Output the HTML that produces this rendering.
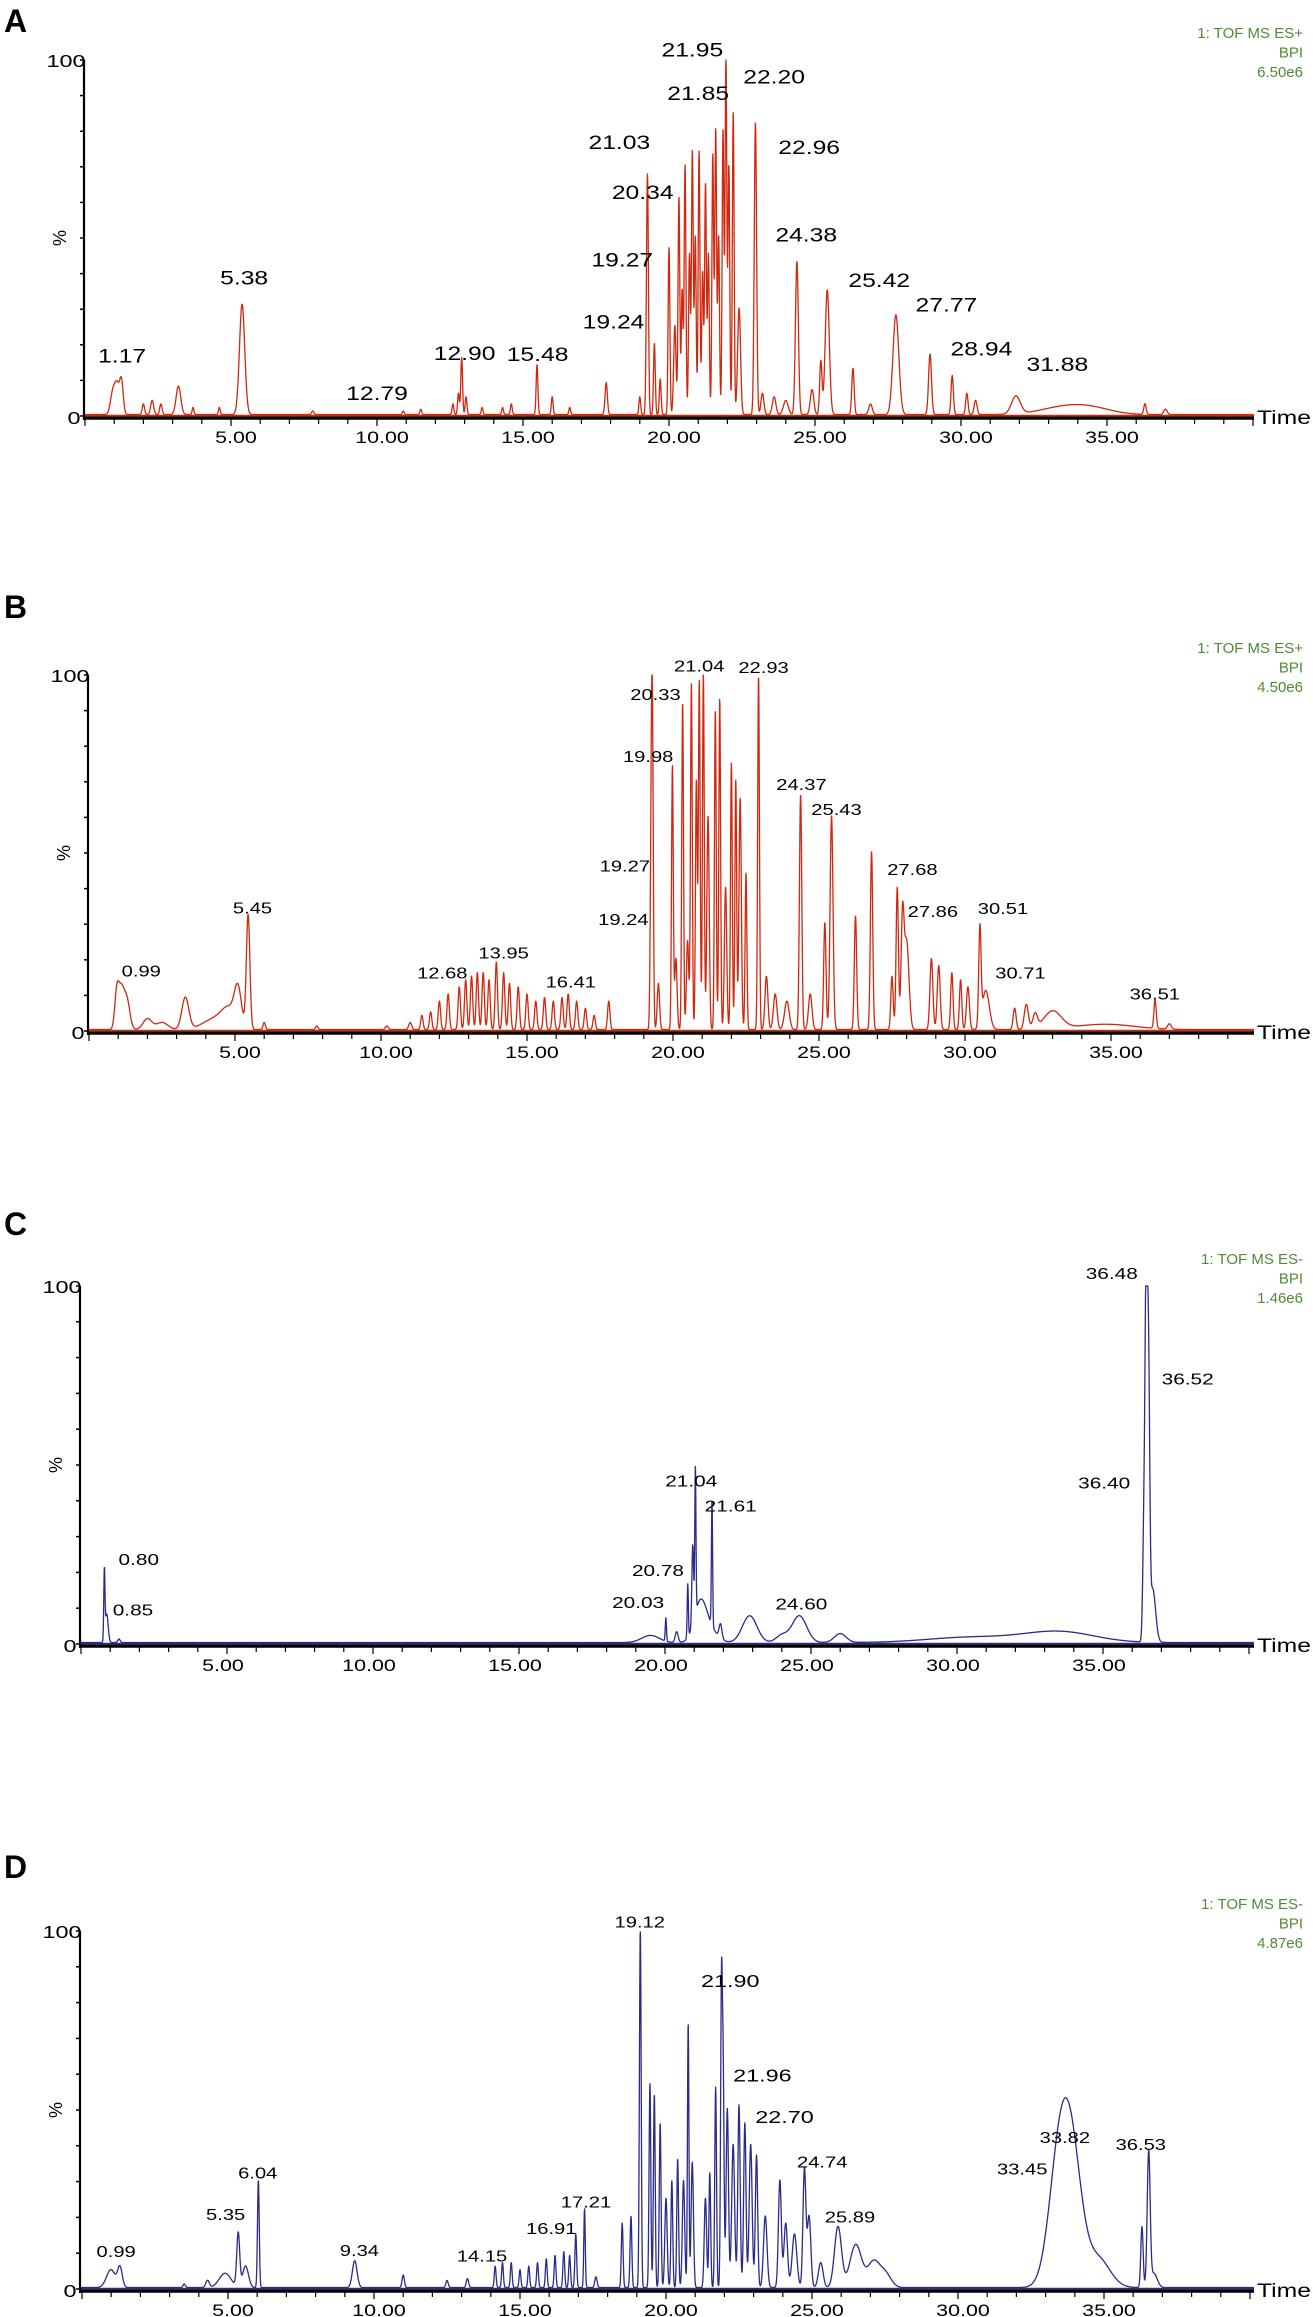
<!DOCTYPE html>
<html><head><meta charset="utf-8">
<style>
html,body{margin:0;padding:0;background:#fff;}
svg{display:block;font-family:"Liberation Sans",Arial,sans-serif;}
.sx{transform-box:fill-box;transform-origin:center;transform:scaleX(1.3);}
</style></head>
<body>
<svg id="fig" width="1313" height="2317" viewBox="0 0 1313 2317" xmlns="http://www.w3.org/2000/svg"></svg>
<script>
// ---------- Panel A data (ES+ sample 1) ----------
const aTimes   = [0.95,1.1,1.25,2.0,2.3,2.6,3.2,3.7,4.6,5.38,7.8,10.9,11.5,12.6,12.79,12.90,13.05,13.6,14.3,14.6,15.48,16.0,16.6,17.85,19.0,19.24,19.27,19.5,19.7,20.0,20.2,20.34,20.45,20.55,20.7,20.8,20.9,21.03,21.15,21.25,21.35,21.5,21.6,21.7,21.85,21.95,22.05,22.20,22.4,22.96,23.2,23.6,24.0,24.38,24.9,25.2,25.42,26.3,26.9,27.77,28.94,29.7,30.2,30.5,31.88,33.5,34.5,36.3,37.0];
const aHeights = [6,8,9,3,4,3,8,2,2,31,1,1,1.5,3,6,16,5,2,2,3,14,5,2,9,5,24,51,20,10,47,25,61,35,70,45,74,50,74,40,65,45,73,80,50,80,100,70,85,30,82,6,5,4,43,7,15,35,13,3,28,17,11,6,4,5,2,1.5,3,1.5];
const aWidths  = [0.08,0.08,0.06,0.04,0.05,0.04,0.08,0.03,0.03,0.09,0.04,0.03,0.03,0.03,0.03,0.03,0.03,0.03,0.03,0.03,0.03,0.03,0.03,0.04,0.03,0.03,0.03,0.03,0.03,0.03,0.04,0.03,0.03,0.03,0.03,0.03,0.03,0.03,0.03,0.03,0.03,0.03,0.03,0.03,0.03,0.03,0.03,0.03,0.05,0.04,0.05,0.06,0.08,0.05,0.06,0.04,0.07,0.04,0.06,0.1,0.05,0.04,0.04,0.05,0.15,0.8,0.7,0.04,0.06];
const aLabelText = ["1.17","5.38","12.79","12.90","15.48","19.24","19.27","20.34","21.03","21.85","21.95","22.20","22.96","24.38","25.42","27.77","28.94","31.88"];
const aLabelT    = [1.27,5.45,10.0,13.0,15.5,18.1,18.4,19.1,18.3,21.0,20.8,23.6,24.8,24.7,27.2,29.5,30.7,33.3];
const aLabelY    = [15,37,4.5,15.7,15.5,24.6,42,61,75,88.8,101,93.4,73.6,49,36.3,29.3,17,12.7];

// ---------- Panel B data (ES+ sample 2) ----------
const bTimes   = [0.95,1.1,1.3,2.0,2.5,3.3,4.3,4.8,5.1,5.45,6.0,7.8,10.2,11.0,11.4,11.7,12.0,12.3,12.68,12.9,13.1,13.3,13.5,13.7,13.95,14.2,14.4,14.7,15.0,15.3,15.6,15.9,16.2,16.41,16.7,17.0,17.3,17.8,19.24,19.27,19.3,19.5,19.98,20.1,20.33,20.5,20.63,20.8,20.9,21.04,21.2,21.45,21.6,21.8,22.0,22.15,22.3,22.5,22.93,23.2,23.5,23.9,24.37,24.7,25.2,25.43,26.25,26.8,27.5,27.68,27.86,28.0,28.85,29.1,29.55,29.85,30.1,30.51,30.71,31.7,32.1,32.4,33.0,34.8,36.51,37.0];
const bHeights = [9,11,8,3,2,9,3,5,10,32,2,1,1,2,4,5,8,10,12,14,15,16,16,14,19,16,13,12,10,8,9,8,9,10,8,6,4,8,26,41,65,13,74,20,92,25,97,70,98,100,60,90,93,40,75,70,65,44,99.5,15,10,8,66,10,30,60,32,50,15,40,30,25,20,18,16,14,12,27,11,6,7,4,5,1.5,8,1.5];
const bWidths  = [0.07,0.1,0.1,0.15,0.2,0.12,0.4,0.25,0.12,0.06,0.04,0.04,0.05,0.05,0.04,0.04,0.04,0.04,0.04,0.04,0.04,0.04,0.04,0.04,0.04,0.04,0.04,0.04,0.04,0.04,0.04,0.04,0.04,0.04,0.04,0.04,0.04,0.04,0.03,0.03,0.03,0.04,0.03,0.04,0.03,0.04,0.03,0.03,0.03,0.03,0.04,0.03,0.03,0.04,0.03,0.03,0.04,0.03,0.03,0.05,0.06,0.08,0.04,0.06,0.04,0.05,0.04,0.04,0.04,0.04,0.05,0.08,0.05,0.05,0.04,0.04,0.05,0.04,0.12,0.05,0.07,0.08,0.3,1.0,0.04,0.06];
const bLabelText = ["0.99","5.45","12.68","13.95","16.41","19.24","19.27","19.98","20.33","21.04","22.93","24.37","25.43","27.68","27.86","30.51","30.71","36.51"];
const bLabelT    = [1.79,5.6,12.1,14.2,16.5,18.3,18.35,19.15,19.4,20.9,23.1,24.4,25.6,28.2,28.9,31.3,31.9,36.5];
const bLabelY    = [15.3,33,14.8,20.4,12.2,29.8,44.8,75.5,93,101,100.5,67.7,60.7,43.8,32,32.9,14.8,8.9];

// ---------- Panel C data (ES- sample 1) ----------
const cTimes   = [0.80,0.88,1.3,19.5,20.03,20.4,20.78,20.95,21.04,21.2,21.4,21.61,21.9,22.9,24.0,24.6,26.0,30.5,33.5,36.40,36.48,36.56,36.7];
const cHeights = [19,8,1,2,6.5,3,15,22,41,8,5,35,4,7.5,2,7.5,2.5,1.5,3,30,100,70,15];
const cWidths  = [0.02,0.05,0.04,0.3,0.02,0.05,0.02,0.03,0.02,0.2,0.3,0.02,0.05,0.25,0.2,0.25,0.2,1.5,1.2,0.04,0.04,0.04,0.1];
const cLabelText = ["0.80","0.85","20.03","20.78","21.04","21.61","24.60","36.48","36.52","36.40"];
const cLabelT    = [1.98,1.78,19.08,19.76,20.9,22.25,24.67,35.3,37.9,35.04];
const cLabelY    = [22,8,10,19,44,37,9.7,102,72.5,43.4];

// ---------- Panel D data (ES- sample 2) ----------
const dTimes   = [0.99,1.3,3.5,4.3,4.9,5.35,5.6,6.04,9.34,11.0,12.5,13.2,14.15,14.4,14.7,15.0,15.3,15.6,15.9,16.2,16.5,16.7,16.91,17.21,17.6,18.5,18.8,19.12,19.45,19.6,19.8,20.0,20.2,20.4,20.6,20.76,20.9,21.35,21.5,21.7,21.90,21.96,22.1,22.3,22.5,22.70,22.9,23.1,23.4,23.9,24.1,24.4,24.74,24.9,25.3,25.89,26.5,27.1,27.5,33.45,33.9,34.8,36.3,36.53,36.7];
const dHeights = [5,5.5,1,2,4,15,6,30,7.5,3.5,2,2.5,6,7,7,5,6,7,8,9,10,9,15,22,3,18,20,100,57,54,46,25,30,36,30,74,35,25,32,56,83,55,50,40,51,46,40,37,20,30,18,15,33,20,7,17,12,7,4,32,33,8,17,37,4];
const dWidths  = [0.15,0.08,0.04,0.06,0.2,0.05,0.1,0.03,0.08,0.04,0.04,0.04,0.03,0.03,0.03,0.03,0.03,0.03,0.03,0.03,0.03,0.03,0.03,0.025,0.04,0.03,0.03,0.03,0.03,0.03,0.03,0.04,0.03,0.03,0.04,0.025,0.04,0.04,0.03,0.03,0.03,0.03,0.04,0.05,0.04,0.04,0.05,0.04,0.06,0.05,0.06,0.08,0.05,0.06,0.08,0.12,0.2,0.2,0.2,0.35,0.35,0.4,0.04,0.05,0.12];
const dLabelText = ["0.99","5.35","6.04","9.34","14.15","16.91","17.21","19.12","21.90","21.96","22.70","24.74","25.89","33.45","33.82","36.53"];
const dLabelT    = [1.17,4.92,6.02,9.5,13.7,16.07,17.26,19.1,22.2,23.3,24.06,25.35,26.3,32.2,33.66,36.26];
const dLabelY    = [9,19.3,30.8,9.2,7.7,15.4,22.7,101,84.4,58,46.3,34,18.6,32,40.8,38.8];

// ---------- tick labels ----------
const tickValues = [5,10,15,20,25,30,35];
const tickLabels = ["5.00","10.00","15.00","20.00","25.00","30.00","35.00"];

// ---------- header info ----------
const headerModes  = ["1: TOF MS ES+","1: TOF MS ES+","1: TOF MS ES-","1: TOF MS ES-"];
const headerScales = ["6.50e6","4.50e6","1.46e6","4.87e6"];

const NS = "http://www.w3.org/2000/svg";
const svg = document.getElementById("fig");
function mk(tag, attrs, parent){const e=document.createElementNS(NS,tag);for(const k in attrs)e.setAttribute(k,attrs[k]);(parent||svg).appendChild(e);return e;}

const panels = [
 {id:"a",letter:"A",letterY:32,axisX:84,x0:85,y100:60,y0:416,color:"#d0280e",t:aTimes,h:aHeights,w:aWidths,lt:aLabelText,lx:aLabelT,ly:aLabelY,lf:19,tickShift:5},
 {id:"b",letter:"B",letterY:618,axisX:88,x0:89,y100:675,y0:1031,color:"#d0280e",t:bTimes,h:bHeights,w:bWidths,lt:bLabelText,lx:bLabelT,ly:bLabelY,lf:15.5,tickShift:5},
 {id:"c",letter:"C",letterY:1235,axisX:80,x0:81,y100:1286,y0:1644,color:"#2b2b8a",t:cTimes,h:cHeights,w:cWidths,lt:cLabelText,lx:cLabelT,ly:cLabelY,lf:16,tickShift:-4},
 {id:"d",letter:"D",letterY:1878,axisX:80,x0:82,y100:1931,y0:2289,color:"#2b2b8a",t:dTimes,h:dHeights,w:dWidths,lt:dLabelText,lx:dLabelT,ly:dLabelY,lf:15.5,tickShift:5}
];
const PPM = 29.2, XEND = 1254;

panels.forEach((p,pi)=>{
  const g = mk("g",{});
  
  
  const xs = t => p.x0 + t*PPM;
  const ys = v => p.y0 - v/100*(p.y0-p.y100);
  const tMin = (p.axisX - p.x0)/PPM, tMax = (XEND - p.x0)/PPM;

  // panel letter
  const L = mk("text",{x:4,y:p.letterY,"font-size":32,"font-weight":"bold",fill:"#000"},g);
  L.textContent = p.letter;
  
  

  // header
  const hd = mk("g",{"font-size":15,fill:"#4f8a35","text-anchor":"end"},g);
  
  
  [headerModes[pi],"BPI",headerScales[pi]].forEach((s,i)=>{
    const tx = mk("text",{x:1303,y:p.y100-22+i*19.5},hd); tx.textContent=s;
  });

  // trace
  let d = "";
  for(let t=tMin;t<=tMax;t+=0.008){
    let v = 0.4;
    for(let i=0;i<p.t.length;i++){const z=(t-p.t[i])/p.w[i]; if(Math.abs(z)<6) v+=p.h[i]*Math.exp(-0.5*z*z);}
    if(v>100)v=100;
    d += (d?"L":"M")+xs(t).toFixed(2)+","+ys(v).toFixed(2);
  }
  const tr = mk("path",{d:d,fill:"none",stroke:p.color,"stroke-width":1.3,"stroke-linejoin":"round"},g);
  
  

  // axes
  const xa = mk("line",{x1:p.axisX,y1:p.y0+2,x2:XEND,y2:p.y0+2,stroke:"#000","stroke-width":3.5},g);
  
  
  mk("line",{x1:p.axisX,y1:p.y0-0.5,x2:XEND,y2:p.y0-0.5,stroke:p.color,"stroke-width":1.5},g);
  const ya = mk("line",{x1:p.axisX,y1:p.y100,x2:p.axisX,y2:p.y0+4,stroke:"#000","stroke-width":2.2},g);
  
  
  for(let k=0;k<=10;k++){mk("line",{x1:p.axisX-4,y1:ys(k*10),x2:p.axisX,y2:ys(k*10),stroke:"#000","stroke-width":1.5},g);}
  for(let t=Math.ceil(tMin);t<=tMax;t++){mk("line",{x1:xs(t),y1:p.y0+3,x2:xs(t),y2:p.y0+(t%5==0?10:8),stroke:"#000","stroke-width":1.2},g);}

  // y labels
  const y100 = mk("text",{x:p.axisX-3,y:p.y100+7,"font-size":18,"text-anchor":"end",class:"sx"},g); y100.textContent="100";
  
  
  const y0l = mk("text",{x:p.axisX-5,y:p.y0+8,"font-size":18,"text-anchor":"end",class:"sx"},g); y0l.textContent="0";
  
  
  const ym = (p.y0+p.y100)/2;
  const pct = mk("text",{x:0,y:0,"font-size":18,"text-anchor":"middle",transform:`translate(${p.axisX-18},${ym}) rotate(-90)`},g); pct.textContent="%";
  
  

  // x tick labels
  tickValues.forEach((tv,i)=>{
    const tx = mk("text",{x:xs(tv)+p.tickShift,y:p.y0+27,"font-size":16.5,"text-anchor":"middle",class:"sx"},g);
    tx.textContent = tickLabels[i];
    
    
  });
  const tm = mk("text",{x:1284,y:p.y0+8,"font-size":19,"text-anchor":"middle",class:"sx"},g); tm.textContent="Time";
  
  

  // peak labels
  p.lt.forEach((s,i)=>{
    let fs = p.lf;
    if(p.id==="d" && (s==="21.90"||s==="21.96"||s==="22.70")) fs=18;
    const tx = mk("text",{x:xs(p.lx[i]),y:ys(p.ly[i]),"font-size":fs,"text-anchor":"middle",class:"sx"},g);
    tx.textContent = s;
    
    
  });
});
</script>
</body></html>
